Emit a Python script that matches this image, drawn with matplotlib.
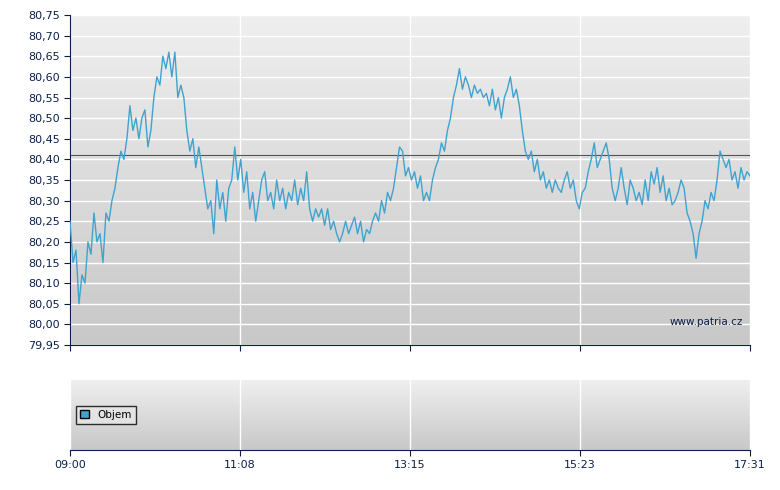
import numpy as np
import matplotlib.pyplot as plt

# cena v case (vzorky rovnomerne od 09:00 do 17:31)
ceny = [80.25, 80.15, 80.18, 80.05, 80.12, 80.10, 80.20, 80.17, 80.27, 80.20, 80.22, 80.15, 80.27, 80.25,
        80.30, 80.33, 80.38, 80.42, 80.40, 80.45, 80.53, 80.47, 80.50, 80.45, 80.50, 80.52, 80.43, 80.47,
        80.55, 80.60, 80.58, 80.65, 80.62, 80.66, 80.60, 80.66, 80.55, 80.58, 80.55, 80.47, 80.42, 80.45,
        80.38, 80.43, 80.38, 80.33, 80.28, 80.30, 80.22, 80.35, 80.28, 80.32, 80.25, 80.33, 80.35, 80.43,
        80.35, 80.40, 80.32, 80.37, 80.28, 80.32, 80.25, 80.30, 80.35, 80.37, 80.30, 80.32, 80.28, 80.35,
        80.30, 80.33, 80.28, 80.32, 80.30, 80.35, 80.29, 80.33, 80.30, 80.37, 80.28, 80.25, 80.28, 80.26,
        80.28, 80.24, 80.28, 80.23, 80.25, 80.22, 80.20, 80.22, 80.25, 80.22, 80.24, 80.26, 80.22, 80.25,
        80.20, 80.23, 80.22, 80.25, 80.27, 80.25, 80.30, 80.27, 80.32, 80.30, 80.33, 80.38, 80.43, 80.42,
        80.36, 80.38, 80.35, 80.37, 80.33, 80.36, 80.30, 80.32, 80.30, 80.35, 80.38, 80.40, 80.44, 80.42,
        80.47, 80.50, 80.55, 80.58, 80.62, 80.57, 80.60, 80.58, 80.55, 80.58, 80.56, 80.57, 80.55, 80.56,
        80.53, 80.57, 80.52, 80.55, 80.50, 80.55, 80.57, 80.60, 80.55, 80.57, 80.53, 80.47, 80.42, 80.40,
        80.42, 80.37, 80.40, 80.35, 80.37, 80.33, 80.35, 80.32, 80.35, 80.33, 80.32, 80.35, 80.37, 80.33,
        80.35, 80.30, 80.28, 80.32, 80.33, 80.37, 80.40, 80.44, 80.38, 80.40, 80.42, 80.44, 80.40, 80.33,
        80.30, 80.33, 80.38, 80.33, 80.29, 80.35, 80.33, 80.30, 80.32, 80.29, 80.35, 80.30, 80.37, 80.34,
        80.38, 80.32, 80.36, 80.30, 80.33, 80.29, 80.30, 80.32, 80.35, 80.33, 80.27, 80.25, 80.22, 80.16,
        80.22, 80.25, 80.30, 80.28, 80.32, 80.30, 80.35, 80.42, 80.40, 80.38, 80.40, 80.35, 80.37, 80.33,
        80.38, 80.35, 80.37, 80.36]
predchozi = 80.41
popisky_x = ['09:00', '11:08', '13:15', '15:23', '17:31']
start, konec = 9 * 60, 17 * 60 + 31

cas = np.linspace(start, konec, len(ceny))
tick_x = np.linspace(start, konec, len(popisky_x))
navy = '#0a1f4a'

fig = plt.figure(figsize=(7.8, 4.9), dpi=100)
ax = fig.add_axes([70/780, 145/490, 680/780, 330/490])
ax2 = fig.add_axes([70/780, 40/490, 680/780, 70/490], sharex=ax)

grad = np.linspace(0, 1, 100).reshape(-1, 1)
for a in (ax, ax2):
    a.imshow(grad, cmap=plt.cm.colors.LinearSegmentedColormap.from_list('g', ['#efefef', '#c8c8c8']),
             extent=[0, 1, 0, 1], transform=a.transAxes, aspect='auto', zorder=0)
    a.grid(True, color='white', lw=1, zorder=1)
    for s in ('top', 'right'):
        a.spines[s].set_visible(False)
    for s in ('left', 'bottom'):
        a.spines[s].set_color(navy)
    a.tick_params(colors=navy, labelsize=8, length=4)

ax.plot(cas, ceny, color='#3fa3cf', lw=1, zorder=3)
ax.axhline(predchozi, color='#555555', lw=0.8, zorder=2)
ax.set_xlim(start, konec)
ax.set_ylim(79.95, 80.75)
yt = np.arange(79.95, 80.751, 0.05)
ax.set_yticks(yt)
ax.set_yticklabels([f'{v:.2f}'.replace('.', ',') for v in yt])
ax.set_xticks(tick_x)
ax.tick_params(axis='x', labelbottom=False)
ax.text(0.99, 0.06, 'www.patria.cz', transform=ax.transAxes, ha='right', fontsize=7.5, color=navy)

ax2.spines['left'].set_visible(False)
ax2.set_yticks([])
ax2.set_xticks(tick_x)
ax2.set_xticklabels(popisky_x)
ax2.set_ylim(0, 1)
ax2.legend(handles=[plt.Rectangle((0, 0), 1, 1, fc='#3fa3cf', ec='black')], labels=['Objem'],
           loc='center left', fontsize=7.5, frameon=True, fancybox=False, edgecolor='black',
           facecolor='#e6e6e6', handlelength=0.8, handleheight=0.8, borderaxespad=0.6)

plt.savefig('out.png')
